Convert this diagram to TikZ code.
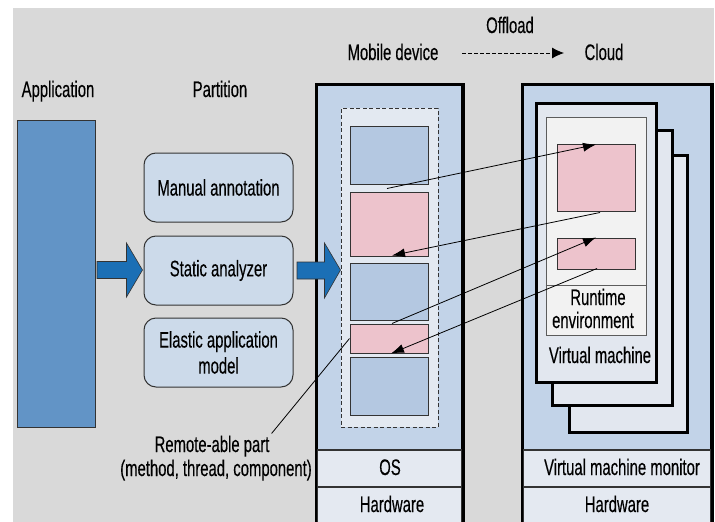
\documentclass[tikz,border=0pt]{standalone}
\usepackage{fontspec}
\setmainfont{Liberation Sans}[FakeStretch=0.66,FakeBold=0.3]
\usetikzlibrary{arrows.meta,fit,calc}
\definecolor{bggray}{HTML}{D9D9D9}
\definecolor{appblue}{HTML}{6294C6}
\definecolor{rboxfill}{HTML}{CCDAEA}
\definecolor{devfill}{HTML}{C2D3E8}
\definecolor{dashfill}{HTML}{E3E9F1}
\definecolor{blkblue}{HTML}{B4C8E1}
\definecolor{blkpink}{HTML}{EDC3CC}
\definecolor{rowfill}{HTML}{E4E9F1}
\definecolor{vmfill}{HTML}{E2E7EF}
\definecolor{rtfill}{HTML}{F2F2F2}
\definecolor{arrblue}{HTML}{1B6FB5}
\definecolor{edge}{HTML}{333333}
\tikzset{
  lbl/.style={font=\fontsize{22.5}{24}\selectfont, text=black, inner sep=0pt},
  rbox/.style={draw=edge, line width=1pt, fill=rboxfill, rounded corners=12pt, inner sep=0pt,
    minimum width=149pt, minimum height=69pt, align=center, text=black,
    font=\fontsize{22.5}{26}\selectfont},
  outerbox/.style={draw=black, line width=2.5pt, fill=devfill, inner sep=0pt},
  rowbox/.style={draw=edge, line width=1.2pt, fill=rowfill, inner sep=0pt},
  dashbox/.style={draw=edge, line width=0.9pt, dash pattern=on 4pt off 2.5pt, fill=dashfill, inner sep=0pt},
  bblk/.style={draw=edge, line width=1pt, fill=blkblue, inner sep=0pt},
  pblk/.style={draw=edge, line width=1pt, fill=blkpink, inner sep=0pt},
  vmframe/.style={draw=black, line width=3pt, fill=vmfill, inner sep=0pt},
  rtbox/.style={draw=edge!80, line width=0.9pt, fill=rtfill, inner sep=0pt},
  flow/.style={line width=0.8pt, draw=black, -{Latex[length=13pt,width=9pt]}},
  bigarrow/.style={fill=arrblue, draw=edge, line width=0.6pt},
}
\begin{document}
\begin{tikzpicture}[x=1pt,y=-1pt]
\useasboundingbox (0,0) rectangle (715,522);
\fill[white] (0,0) rectangle (715,522);
\fill[bggray] (13,8) rectangle (714,522);

% top labels
\node[lbl, anchor=base] (lapp) at (58,97) {Application};
\node[lbl, anchor=base] (lpart) at (220,97) {Partition};
\node[lbl, anchor=base] (lmob) at (393,60) {Mobile device};
\node[lbl, anchor=base] (loff) at (510,33) {Offload};
\node[lbl, anchor=base] (lcloud) at (604,60) {Cloud};
\coordinate (offs) at (462,53);
\coordinate (offe) at (564,53);
\draw[line width=0.8pt, dash pattern=on 3.5pt off 2.5pt, -{Latex[length=12pt,width=11pt]}] (offs) -- (offe);

% application
\node[draw=edge, line width=1pt, fill=appblue, inner sep=0pt, fit={(17,120) (95,427)}] (app) {};

% partition boxes
\node[rbox] (man) at (218.5,187.5) {Manual annotation};
\node[rbox] (sta) at (218.5,270.5) {Static analyzer};
\node[rbox] (ela) at (218.5,352.5) {Elastic application\\model};

% big arrows
\filldraw[bigarrow] (97,261.5) -- (126.5,261.5) -- (126.5,243) -- (142.5,270) -- (126.5,297) -- (126.5,278.5) -- (97,278.5) -- cycle;

% mobile device
\node[outerbox, fit={(317,85) (462,530)}] (mob) {};
\node[rowbox, fit={(317,450) (462,487)}] (os) {};
\node[rowbox, fit={(317,487) (462,530)}] (mhw) {};
\draw[black, line width=2.5pt] (mob.north west) rectangle (mob.south east);
\node[lbl, anchor=base] at (390,475) {OS};
\node[lbl, anchor=base] at (392,512) {Hardware};

\filldraw[bigarrow] (297,262) -- (324.5,262) -- (324.5,243) -- (340.5,270) -- (324.5,298) -- (324.5,279) -- (297,279) -- cycle;

\node[dashbox, fit={(341,108) (438,427)}] (dash) {};
\node[bblk, fit={(350,126) (428,184)}] (m1) {};
\node[pblk, fit={(350,192) (428,256)}] (m2) {};
\node[bblk, fit={(350,263) (428,320)}] (m3) {};
\node[pblk, fit={(350,324) (428,353)}] (m4) {};
\node[bblk, fit={(350,357) (428,415)}] (m5) {};

% cloud
\node[outerbox, fit={(523,85) (711,530)}] (cld) {};
\node[rowbox, fit={(523,450) (711,487)}] (vmm) {};
\node[rowbox, fit={(523,487) (711,530)}] (chw) {};
\draw[black, line width=2.5pt] (cld.north west) rectangle (cld.south east);
\node[lbl, anchor=base] at (622,475) {Virtual machine monitor};
\node[lbl, anchor=base] at (617,512) {Hardware};

\node[vmframe, fit={(569,155) (687,432)}] (vm3) {};
\node[vmframe, fit={(552,130) (672,405)}] (vm2) {};
\node[vmframe, fit={(536,103) (656,382)}] (vm1) {};
\node[rtbox, fit={(546,117) (646,335)}] (rt) {};
\draw[edge!80, line width=0.9pt] (rt.west |- 0,285) -- (rt.east |- 0,285);
\node[lbl, anchor=base] at (598,305) {Runtime};
\node[lbl, anchor=base] at (593,328) {environment};
\node[lbl, anchor=base] at (600,363) {Virtual machine};
\node[pblk, fit={(557,144) (635,211)}] (ca) {};
\node[pblk, fit={(557,238) (635,269)}] (cb) {};

% offload connectors
\draw[flow] ($(m2.north)+(-2,-3)$) -- ($(ca.north)+(0,1)$);
\draw[flow] ($(ca.south)+(4,1)$) -- ($(m2.south)+(3,-1)$);
\draw[flow] ($(m4.north)+(3,0)$) -- ($(cb.north)+(0,0)$);
\draw[flow] ($(cb.south)+(1,-1)$) -- ($(m4.south)+(2,0)$);

% remote-able label
\node[lbl, anchor=base] (rem) at (212,452) {Remote-able part};
\node[lbl, anchor=base] (rem2) at (216,476) {(method, thread, component)};
\draw[line width=0.8pt] (rem.north east) ++(2,-2) -- (m4.west);
\end{tikzpicture}
\end{document}
